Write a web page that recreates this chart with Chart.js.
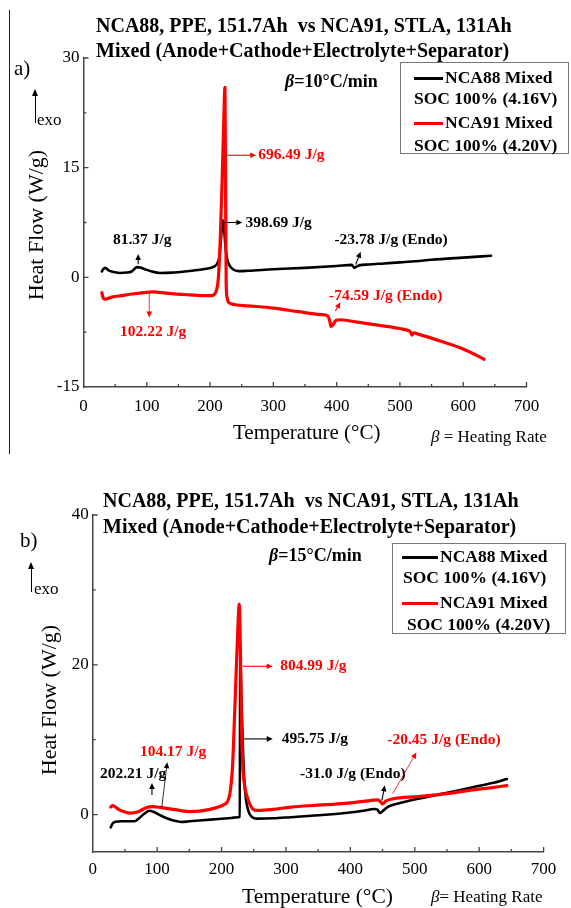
<!DOCTYPE html>
<html lang="en">
<head>
<meta charset="UTF-8">
<title>DSC – NCA88 vs NCA91 Mixed</title>
<script src="https://cdn.jsdelivr.net/npm/chart.js@4.4.1/dist/chart.umd.min.js"></script>
<style>
  body { margin: 0; background: #fff; width: 571px; height: 908px; overflow: hidden; position: relative; font-family: "Liberation Serif", "Times New Roman", serif; color: #000; }
  .panel { position: absolute; left: 0; width: 571px; }
  .t { position: absolute; white-space: pre; line-height: 1; transform: translateY(-50%); }
  .b { font-weight: bold; }
  .title { font-size: 20px; font-weight: bold; }
  .leg { font-size: 17.5px; font-weight: bold; }
  .box { position: absolute; border: 1px solid #777; box-sizing: border-box; }
  .sample { position: absolute; height: 3px; }
  .ylab { position: absolute; font-size: 22px; white-space: pre; line-height: 1; transform: translate(-50%, -50%) rotate(-90deg); }
  .exo { position: absolute; width: 1px; background: #000; }
  .exo::before { content: ""; position: absolute; left: -3px; top: -6px; border-left: 3.5px solid transparent; border-right: 3.5px solid transparent; border-bottom: 7px solid #000; }
</style>
</head>
<body>
<div style="position:absolute;left:9px;top:10px;width:1px;height:444px;background:#222"></div>

<div class="panel" style="top:0;height:455px"><canvas id="chartA" width="571" height="455"></canvas></div>
<div class="panel" style="top:455px;height:453px"><canvas id="chartB" width="571" height="453"></canvas></div>

<!-- panel a texts -->
<div class="t title" style="left:96px;top:25px">NCA88, PPE, 151.7Ah  vs NCA91, STLA, 131Ah</div>
<div class="t title" style="left:96px;top:50px">Mixed (Anode+Cathode+Electrolyte+Separator)</div>
<div class="t" style="left:14px;top:68px;font-size:21px">a)</div>
<div class="t b" style="left:285px;top:81px;font-size:18px"><i>β</i>=10°C/min</div>
<div class="exo" style="left:35px;top:95px;height:28px"></div>
<div class="t" style="left:37px;top:119px;font-size:17px">exo</div>
<div class="box" style="left:400px;top:62px;width:169px;height:92px"></div>
<div class="sample" style="left:414px;top:76.5px;width:29px;background:#000"></div>
<div class="t leg" style="left:445px;top:78px">NCA88 Mixed</div>
<div class="t leg" style="left:414px;top:99px">SOC 100% (4.16V)</div>
<div class="sample" style="left:414px;top:121.5px;width:29px;background:#f00"></div>
<div class="t leg" style="left:445px;top:123px">NCA91 Mixed</div>
<div class="t leg" style="left:414px;top:146px">SOC 100% (4.20V)</div>
<div class="ylab" style="left:36px;top:225px">Heat Flow (W/g)</div>
<div class="t" style="left:233px;top:432px;font-size:21px">Temperature (°C)</div>
<div class="t" style="left:431px;top:436px;font-size:17px"><i>β</i> = Heating Rate</div>

<!-- panel b texts -->
<div class="t title" style="left:103px;top:500px">NCA88, PPE, 151.7Ah  vs NCA91, STLA, 131Ah</div>
<div class="t title" style="left:103px;top:526px">Mixed (Anode+Cathode+Electrolyte+Separator)</div>
<div class="t" style="left:20px;top:540px;font-size:21px">b)</div>
<div class="t b" style="left:269px;top:555px;font-size:18px"><i>β</i>=15°C/min</div>
<div class="exo" style="left:31px;top:568px;height:24px"></div>
<div class="t" style="left:34px;top:588px;font-size:17px">exo</div>
<div class="box" style="left:392px;top:543px;width:174px;height:91px"></div>
<div class="sample" style="left:402px;top:555.5px;width:36px;background:#000"></div>
<div class="t leg" style="left:440px;top:557px">NCA88 Mixed</div>
<div class="t leg" style="left:403px;top:578px">SOC 100% (4.16V)</div>
<div class="sample" style="left:402px;top:601.5px;width:36px;background:#f00"></div>
<div class="t leg" style="left:440px;top:603px">NCA91 Mixed</div>
<div class="t leg" style="left:407px;top:625px">SOC 100% (4.20V)</div>
<div class="ylab" style="left:49px;top:700px">Heat Flow (W/g)</div>
<div class="t" style="left:242px;top:897px;font-size:21.5px">Temperature (°C)</div>
<div class="t" style="left:431px;top:896px;font-size:17px"><i>β</i>= Heating Rate</div>

<script>
// ---- data: temperature (°C) and heat flow (W/g) ----
// panel a, beta = 10 °C/min
const tempA88 = [29, 31, 34.5, 39, 46, 57, 68, 76, 80, 84, 89, 96, 108, 121, 140, 160, 180, 198, 207, 212, 215, 217, 219, 220.5, 222, 224, 227, 231, 236, 245, 260, 300, 350, 400, 424, 428, 432, 440, 450, 475, 500, 525, 550, 600, 644];
const flowA88 = [0.8, 1.1, 1.3, 1.0, 0.75, 0.6, 0.65, 0.8, 1.1, 1.4, 1.35, 1.15, 0.8, 0.6, 0.65, 0.8, 1.0, 1.25, 1.5, 2.0, 3.0, 5.0, 7.0, 7.8, 7.0, 4.5, 2.5, 1.6, 1.1, 0.85, 0.9, 1.1, 1.3, 1.55, 1.7, 1.3, 1.5, 1.7, 1.75, 1.9, 2.05, 2.2, 2.4, 2.7, 2.95];
const tempA91 = [29, 31, 34, 38, 45, 60, 80, 100, 110, 130, 160, 190, 202, 207, 210, 213, 216, 219, 221.5, 223.5, 224.5, 225.5, 227, 229, 233, 240, 260, 300, 340, 375, 386, 389, 391, 394, 399, 405, 430, 470, 500, 512, 517, 519, 522, 530, 560, 600, 633];
const flowA91 = [-2.1, -2.8, -3.0, -2.9, -2.7, -2.5, -2.25, -2.05, -2.0, -2.15, -2.35, -2.5, -2.5, -2.3, -1.8, -0.2, 5, 13, 21, 26, 12, -1, -2.8, -3.4, -3.6, -3.75, -3.9, -4.2, -4.7, -5.1, -5.3, -5.9, -6.7, -6.5, -5.9, -5.8, -6.1, -6.6, -7.0, -7.25, -7.5, -7.9, -7.6, -7.8, -8.6, -9.8, -11.2];

// panel b, beta = 15 °C/min
const tempB88 = [28, 31, 35, 45, 55, 65, 72, 80, 88, 96, 105, 115, 125, 138, 150, 170, 195, 215, 226, 228.3, 229, 231, 233, 235, 238, 242, 247, 255, 280, 307, 350, 392, 420, 437, 442, 446, 450, 456, 463, 480, 505, 550, 590, 620, 643];
const flowB88 = [-1.7, -1.2, -0.95, -0.9, -0.9, -0.9, -0.5, 0.1, 0.5, 0.3, -0.1, -0.5, -0.8, -1.0, -0.9, -0.75, -0.6, -0.45, -0.35, -0.3, 21, 15, 9.5, 5, 2, 0.4, -0.3, -0.55, -0.5, -0.35, -0.1, 0.2, 0.5, 0.75, 0.65, 0.2, 0.45, 0.9, 1.2, 1.6, 2.1, 2.9, 3.65, 4.2, 4.75];
const tempB91 = [28, 31, 34, 40, 50, 59, 68, 76, 84, 93, 105, 120, 135, 150, 165, 180, 195, 203, 209, 213, 217, 221, 224.5, 227.5, 229.5, 231, 233, 236, 240, 245, 251, 260, 280, 308, 350, 392, 420, 443, 447, 450, 455, 466, 505, 550, 590, 620, 643];
const flowB91 = [1.0, 1.2, 1.1, 0.7, 0.35, 0.2, 0.3, 0.6, 0.95, 1.05, 0.95, 0.75, 0.55, 0.4, 0.45, 0.65, 1.0, 1.3, 1.7, 2.8, 6.3, 15, 23, 28.1, 21, 12, 6.5, 3.8, 2.3, 1.2, 0.6, 0.55, 0.7, 1.0, 1.25, 1.5, 1.75, 1.95, 1.7, 1.42, 1.8, 2.1, 2.4, 2.8, 3.3, 3.6, 3.87];

// axis ranges / ticks
const xTicks = [0, 100, 200, 300, 400, 500, 600, 700];
const yTicksA = [-15, 0, 15, 30];
const yTicksB = [0, 20, 40];

// labels with arrows, placed in data units (text anchor, arrow from -> to)
const notesA = [
  { text: '696.49 J/g', color: '#f00', at: [276, 16.7], from: [227, 16.7], to: [273, 16.7] },
  { text: '398.69 J/g', color: '#000', at: [256, 7.5], from: [221.5, 7.5], to: [251, 7.5] },
  { text: '81.37 J/g', color: '#000', at: [46.5, 5.05], from: [86.4, 1.8], to: [86.4, 3.2] },
  { text: '-23.78 J/g (Endo)', color: '#000', at: [396.5, 5.05], from: [430, 1.75], to: [438, 3.5] },
  { text: '-74.59 J/g (Endo)', color: '#f00', at: [388, -2.6], from: [398, -4.6], to: [406, -3.4] },
  { text: '102.22 J/g', color: '#f00', at: [57.7, -7.45], from: [103.9, -2.05], to: [103.9, -5.5], thin: true }
];
const notesB = [
  { text: '804.99 J/g', color: '#f00', at: [291, 19.8], from: [233, 19.8], to: [279.5, 19.8] },
  { text: '495.75 J/g', color: '#000', at: [293.5, 10.1], from: [233, 10.1], to: [279.5, 10.1] },
  { text: '104.17 J/g', color: '#f00', at: [73.4, 8.3] },
  { color: '#000', from: [107.3, 1.0], to: [115.7, 7.0], thin: true },
  { text: '202.21 J/g', color: '#000', at: [11.3, 5.45], from: [92, 2.6], to: [92, 4.2] },
  { text: '-31.0 J/g (Endo)', color: '#000', at: [322, 5.45], from: [449, 1.9], to: [453.4, 3.9] },
  { text: '-20.45 J/g (Endo)', color: '#f00', at: [457.4, 10.0], from: [465.8, 2.8], to: [502.5, 8.3], thin: true }
];

const pts = (xs, ys) => xs.map((x, i) => ({ x: x, y: ys[i] }));

// ticks drawn inward like the origin plot
const inwardTicks = {
  id: 'inwardTicks',
  afterDraw(chart) {
    const { ctx, chartArea: a, scales: { x, y } } = chart;
    ctx.save();
    ctx.strokeStyle = '#444';
    ctx.lineWidth = 1.3;
    ctx.beginPath();
    x.ticks.forEach(t => {
      if (t.value <= x.min) return;
      const px = x.getPixelForValue(t.value);
      const len = xTicks.includes(t.value) ? 5 : 3;
      ctx.moveTo(px, a.bottom);
      ctx.lineTo(px, a.bottom - len);
    });
    y.ticks.forEach(t => {
      if (t.value <= y.min) return;
      const py = y.getPixelForValue(t.value);
      const len = t.label !== '' ? 5 : 3;
      ctx.moveTo(a.left, py);
      ctx.lineTo(a.left + len, py);
    });
    ctx.stroke();
    ctx.restore();
  }
};

const notes = {
  id: 'notes',
  afterDatasetsDraw(chart, args, opts) {
    const { ctx, scales: { x, y } } = chart;
    const P = p => [x.getPixelForValue(p[0]), y.getPixelForValue(p[1])];
    (opts.items || []).forEach(n => {
      ctx.save();
      ctx.fillStyle = n.color;
      ctx.strokeStyle = n.color;
      if (n.text) {
        ctx.font = 'bold 15.5px "Liberation Serif"';
        ctx.textBaseline = 'middle';
        const [tx, ty] = P(n.at);
        ctx.fillText(n.text, tx, ty);
      }
      if (n.from) {
        const [x1, y1] = P(n.from), [x2, y2] = P(n.to);
        const ang = Math.atan2(y2 - y1, x2 - x1);
        const hl = 6, hw = 2.8;
        ctx.lineWidth = n.thin ? 0.8 : 1.1;
        ctx.beginPath();
        ctx.moveTo(x1, y1);
        ctx.lineTo(x2 - Math.cos(ang) * hl * 0.6, y2 - Math.sin(ang) * hl * 0.6);
        ctx.stroke();
        ctx.beginPath();
        ctx.moveTo(x2, y2);
        ctx.lineTo(x2 - Math.cos(ang) * hl - Math.sin(ang) * hw, y2 - Math.sin(ang) * hl + Math.cos(ang) * hw);
        ctx.lineTo(x2 - Math.cos(ang) * hl + Math.sin(ang) * hw, y2 - Math.sin(ang) * hl - Math.cos(ang) * hw);
        ctx.closePath();
        ctx.fill();
      }
      ctx.restore();
    });
  }
};

function makeChart(id, o) {
  const tickFont = { family: 'Liberation Serif', size: 17 };
  return new Chart(document.getElementById(id), {
    type: 'line',
    data: {
      datasets: [
        { label: 'NCA88 Mixed SOC 100% (4.16V)', data: o.black, borderColor: '#000', borderWidth: 2.6, order: 2 },
        { label: 'NCA91 Mixed SOC 100% (4.20V)', data: o.red, borderColor: '#ff0000', borderWidth: 3.2, order: 1 }
      ]
    },
    options: {
      responsive: false,
      animation: false,
      events: [],
      parsing: true,
      elements: { point: { radius: 0 }, line: { cubicInterpolationMode: 'monotone', borderCapStyle: 'round', borderJoinStyle: 'round' } },
      layout: { padding: { top: o.padTop, right: o.padRight, left: 0, bottom: 0 } },
      plugins: { legend: { display: false }, tooltip: { enabled: false }, notes: { items: o.notes } },
      scales: {
        x: {
          type: 'linear', min: 0, max: 700,
          grid: { drawOnChartArea: false, drawTicks: false },
          border: { color: '#444', width: 1.5 },
          ticks: { stepSize: 50, autoSkip: false, maxRotation: 0, padding: o.xPad, color: '#000', font: tickFont,
                   callback: v => xTicks.includes(v) ? String(v) : '' },
          afterFit: s => { s.height = o.xHeight; }
        },
        y: {
          type: 'linear', min: o.yMin, max: o.yMax,
          grid: { drawOnChartArea: false, drawTicks: false },
          border: { color: '#444', width: 1.5 },
          ticks: { stepSize: o.yStep, autoSkip: false, padding: 4, color: '#000', font: tickFont,
                   callback: v => o.yLabels.includes(v) ? String(v) : '' },
          afterFit: s => { s.width = o.yWidth; }
        }
      }
    },
    plugins: [inwardTicks, notes]
  });
}

makeChart('chartA', {
  black: pts(tempA88, flowA88), red: pts(tempA91, flowA91), notes: notesA,
  yMin: -15, yMax: 30, yStep: 7.5, yLabels: yTicksA,
  padTop: 58, padRight: 44.5, xHeight: 68, yWidth: 83.5, xPad: 9
});
makeChart('chartB', {
  black: pts(tempB88, flowB88), red: pts(tempB91, flowB91), notes: notesB,
  yMin: -5, yMax: 40, yStep: 10, yLabels: yTicksB,
  padTop: 60, padRight: 27.4, xHeight: 56, yWidth: 92.7, xPad: 7
});
</script>
</body>
</html>
